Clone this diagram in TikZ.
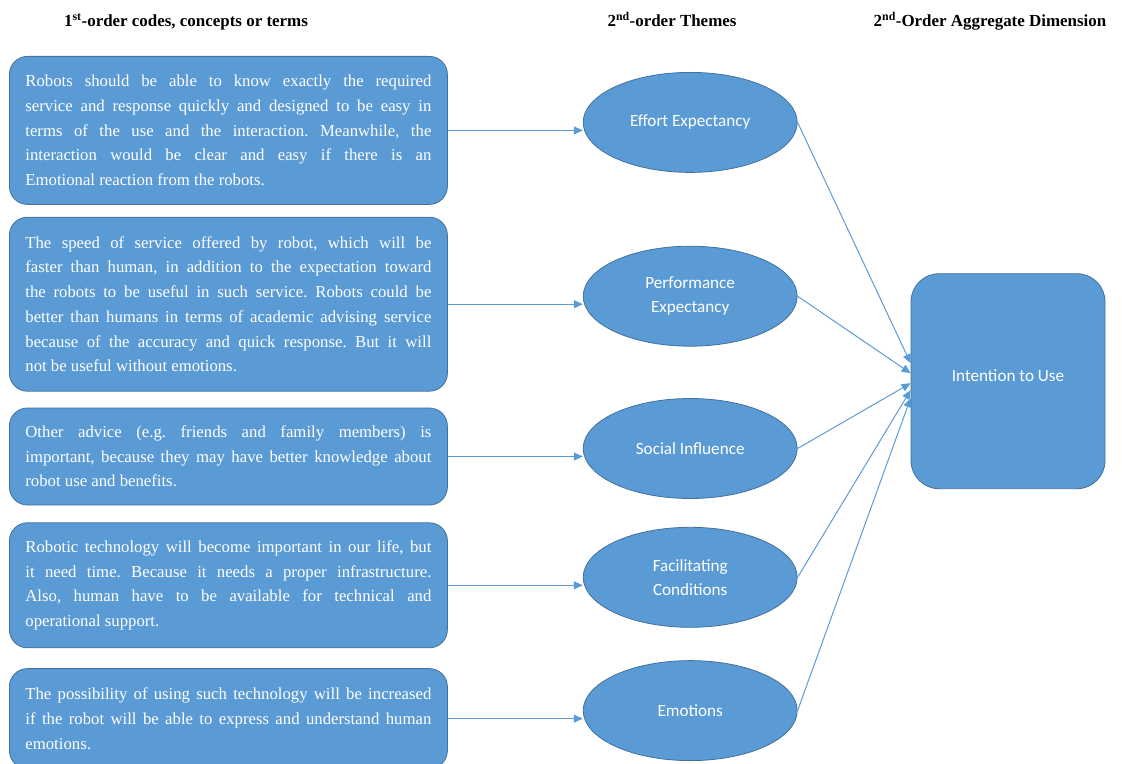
\documentclass[tikz,border=0pt]{standalone}
\usepackage{fontspec}
\setmainfont{Liberation Serif}
\newfontfamily\themefont{Carlito}
\usetikzlibrary{shapes.geometric, arrows.meta, positioning, calc}
\definecolor{boxblue}{HTML}{5B9BD5}
\definecolor{edgeblue}{HTML}{41719C}
\frenchspacing

\begin{document}
\begin{tikzpicture}[
    x=1bp, y=1bp,
    node distance=12bp and 135bp,
    code/.style={rectangle, rounded corners=18bp, draw=edgeblue, fill=boxblue, line width=0.8bp, text=white, text width=406bp, inner xsep=16bp, inner ysep=0bp, align=justify, font=\fontsize{16.8}{24.8}\selectfont},
    theme/.style={ellipse, draw=edgeblue, fill=boxblue, line width=0.8bp, text=white, minimum width=214bp, minimum height=100bp, inner sep=0bp, align=center, font=\themefont\fontsize{17.2}{24}\selectfont},
    dimension/.style={rectangle, rounded corners=28bp, draw=edgeblue, fill=boxblue, line width=0.8bp, text=white, minimum width=194bp, minimum height=215bp, align=center, font=\themefont\fontsize{17.2}{24}\selectfont},
    header/.style={anchor=base, font=\bfseries\fontsize{17}{20}\selectfont},
    arrow/.style={draw=boxblue, line width=1bp, -{Triangle[length=9bp,width=8bp]}}
]
\useasboundingbox (0,0) rectangle (1122,-764);

% Headers
\node (hcodes) [header] at (186,-27) {1\textsuperscript{st}-order codes, concepts or terms};
\node (hthemes) [header] at (672,-27) {2\textsuperscript{nd}-order Themes};
\node (hdim) [header] at (990,-27) {2\textsuperscript{nd}-Order Aggregate Dimension};

% Nodes
\node (c1) [code, minimum height=148bp, anchor=north west] at (9,-56) {Robots should be able to know exactly the required\linebreak service and response quickly and designed to be easy in\linebreak terms of the use and the interaction. Meanwhile, the\linebreak interaction would be clear and easy if there is an\linebreak Emotional reaction from the robots.};
\node (c2) [code, minimum height=174bp, below=of c1] {The speed of service offered by robot, which will be\linebreak faster than human, in addition to the expectation toward\linebreak the robots to be useful in such service. Robots could be\linebreak better than humans in terms of academic advising service\linebreak because of the accuracy and quick response. But it will\linebreak not be useful without emotions.};
\node (c3) [code, minimum height=97bp, below=16bp of c2] {Other advice (e.g. friends and family members) is\linebreak important, because they may have better knowledge about\linebreak robot use and benefits.};
\node (c4) [code, minimum height=125bp, below=17bp of c3] {Robotic technology will become important in our life, but\linebreak it need time. Because it needs a proper infrastructure.\linebreak Also, human have to be available for technical and\linebreak operational support.};
\node (c5) [code, minimum height=100bp, below=20bp of c4] {The possibility of using such technology will be increased\linebreak if the robot will be able to express and understand human\linebreak emotions.};

\node (effort) [theme, right=of c1, yshift=8bp] {Effort Expectancy};
\node (perf) [theme, right=of c2, yshift=8bp] {Performance\\Expectancy};
\node (social) [theme, right=of c3, yshift=8bp] {Social Influence};
\node (facil) [theme, right=of c4, yshift=8bp] {Facilitating\\Conditions};
\node (emot) [theme, right=of c5, yshift=8bp] {Emotions};

\node (intent) [dimension, right=113bp of perf, yshift=-85bp] {\raisebox{11bp}{Intention to Use}};

% Arrows
\draw [arrow] (c1.east) -- (c1.east -| effort.west);
\draw [arrow] (c2.east) -- (c2.east -| perf.west);
\draw [arrow] (c3.east) -- (c3.east -| social.west);
\draw [arrow] (c4.east) -- (c4.east -| facil.west);
\draw [arrow] (c5.east) -- (c5.east -| emot.west);

\draw [arrow] (effort.east) -- ($(intent.west)+(0,18)$);
\draw [arrow] (perf.east) -- ($(intent.west)+(0,8)$);
\draw [arrow] (social.east) -- ($(intent.west)+(0,-2)$);
\draw [arrow] (facil.east) -- ($(intent.west)+(0,-9)$);
\draw [arrow] (emot.east) -- ($(intent.west)+(0,-17)$);

\end{tikzpicture}
\end{document}
